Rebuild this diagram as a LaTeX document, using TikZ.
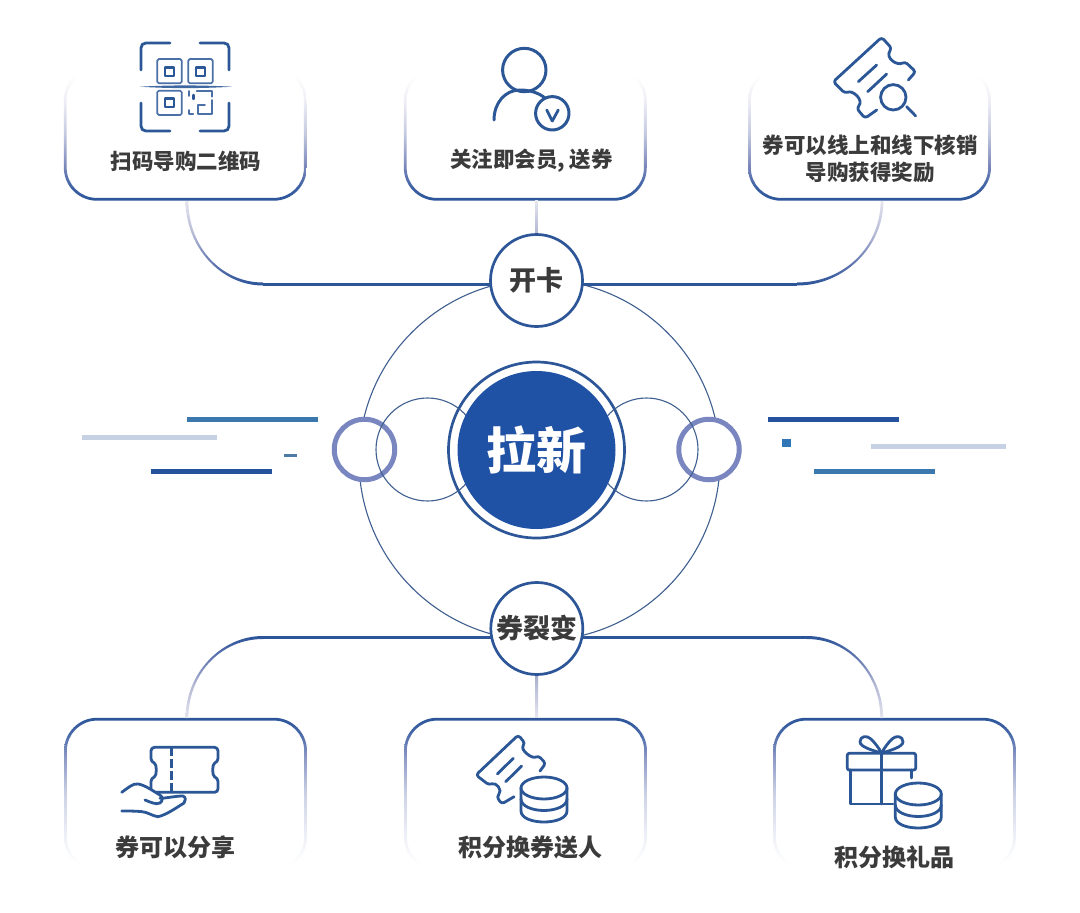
\documentclass[tikz,border=0pt]{standalone}
\usepackage{fontspec}
\setmainfont{Noto Sans CJK SC}
\pgfdeclareverticalshading{cardup}{100bp}{rgb(0bp)=(.17,.33,.60); rgb(25bp)=(.17,.33,.60); rgb(30bp)=(.24,.38,.64); rgb(38bp)=(.48,.53,.73); rgb(50bp)=(.77,.79,.88); rgb(62bp)=(.93,.93,.96); rgb(72bp)=(1,1,1); rgb(100bp)=(1,1,1)}
\pgfdeclareverticalshading{carddown}{100bp}{rgb(0bp)=(1,1,1); rgb(27bp)=(1,1,1); rgb(38bp)=(.92,.93,.96); rgb(50bp)=(.80,.82,.90); rgb(62bp)=(.55,.60,.77); rgb(70bp)=(.28,.41,.66); rgb(75bp)=(.17,.33,.60); rgb(100bp)=(.17,.33,.60)}
\pgfdeclareverticalshading{darklow}{100bp}{rgb(0bp)=(.17,.33,.60); rgb(25bp)=(.17,.33,.60); rgb(38bp)=(.38,.46,.69); rgb(55bp)=(.70,.72,.83); rgb(75bp)=(.90,.90,.94); rgb(100bp)=(.90,.90,.94)}
\pgfdeclareverticalshading{darkhigh}{100bp}{rgb(0bp)=(.90,.90,.94); rgb(25bp)=(.90,.90,.94); rgb(45bp)=(.70,.72,.83); rgb(62bp)=(.38,.46,.69); rgb(75bp)=(.17,.33,.60); rgb(100bp)=(.17,.33,.60)}
\definecolor{iconblue}{HTML}{2B5797}
\definecolor{linkblue}{HTML}{2C5697}
\definecolor{thinblue}{HTML}{3F5F90}
\definecolor{ringpurple}{HTML}{7A86BF}
\definecolor{discblue}{HTML}{1F51A4}
\definecolor{labgray}{HTML}{3B3B3B}
\definecolor{lightdeco}{HTML}{C6D2E4}
\definecolor{tealdeco}{HTML}{3B78AE}
\definecolor{navydeco}{HTML}{24529C}
\definecolor{shortdeco}{HTML}{4E7AA6}
\definecolor{squaredeco}{HTML}{2F77B6}
\tikzset{
  cardbox/.style={rectangle,draw=none,minimum width=242.5pt,minimum height=133pt,inner sep=0pt},
  cardboxlow/.style={rectangle,draw=none,minimum width=242.5pt,minimum height=152pt,inner sep=0pt},
  lab/.style={text=labgray,font=\bfseries\fontsize{21.5}{27}\selectfont,inner sep=0pt,align=center},
  lablow/.style={lab,font=\bfseries\fontsize{24}{27}\selectfont},
  hub/.style={circle,draw=linkblue,line width=2.7pt,fill=white,minimum size=92pt,inner sep=0pt,text=labgray,font=\bfseries\fontsize{27}{30}\selectfont},
  thincirc/.style={circle,draw=thinblue,line width=1.1pt,inner sep=0pt},
  smallring/.style={circle,draw=ringpurple,line width=5pt,fill=white,minimum size=60.5pt,inner sep=0pt},
  link/.style={draw=linkblue,line width=3pt},
  icon/.style={draw=iconblue,line width=2.8pt,line cap=round,line join=round},
  iconthin/.style={draw=iconblue!85,line width=1.7pt,line cap=round,line join=round},
  deco/.style={line width=4.5pt}
}
% shaded outline of a card node: node name, shading name
\newcommand{\cardring}[2]{%
  \shade[shading=#2,even odd rule]
    [rounded corners=33pt] (#1.south west) rectangle (#1.north east)
    [rounded corners=30pt] ([xshift=2.8pt,yshift=2.8pt]#1.south west) rectangle ([xshift=-2.8pt,yshift=-2.8pt]#1.north east);}
% shaded quarter curve as a thin closed ribbon
\newcommand{\ribbon}[7]{%
  \pgfmathsetmacro{\rax}{#1}\pgfmathsetmacro{\ray}{#2+.5523*(#4-#2)}%
  \pgfmathsetmacro{\rbx}{#3-.5523*(#3-#1)}\pgfmathsetmacro{\rby}{#4}%
  \shade[shading=#7]
    (#1+#5*1.4,#2) .. controls (\rax+#5*1.4,\ray) and (\rbx,\rby+#6*1.5) .. (#3,#4+#6*1.5)
    -- (#3,#4-#6*1.5) .. controls (\rbx,\rby-#6*1.5) and (\rax-#5*1.4,\ray) .. (#1-#5*1.4,#2) -- cycle;}
% stack of coins
\newcommand{\coins}[2]{%
  \draw[icon] (#1,#2) ellipse [x radius=23,y radius=11];
  \draw[icon] (#1-23,#2) -- (#1-23,#2+23) .. controls (#1-23,#2+30) and (#1-12,#2+34) .. (#1,#2+34)
     .. controls (#1+12,#2+34) and (#1+23,#2+30) .. (#1+23,#2+23) -- (#1+23,#2);
  \draw[icon] (#1-23,#2+11) .. controls (#1-23,#2+18) and (#1-12,#2+22.5) .. (#1,#2+22.5)
     .. controls (#1+12,#2+22.5) and (#1+23,#2+18) .. (#1+23,#2+11);}
\begin{document}
\begin{tikzpicture}[x=1pt,y=-1pt]
\useasboundingbox (0,0) rectangle (1080,913);
\fill[white] (0,0) rectangle (1080,913);

% decorative dashes
\draw[deco,tealdeco] (187,419.3) -- (318,419.3);
\draw[deco,lightdeco] (82,437.7) -- (217,437.7);
\draw[line width=3.5pt,shortdeco] (283.5,455.3) -- (297.3,455.3);
\draw[deco,navydeco] (151,471.3) -- (271.7,471.3);
\draw[deco,navydeco] (768.3,419.3) -- (899,419.3);
\fill[squaredeco] (782,439) rectangle (790.7,447.3);
\draw[deco,lightdeco] (870.7,446.3) -- (1005.7,446.3);
\draw[deco,tealdeco] (814,471.3) -- (935,471.3);

% cards
\node[cardbox] (c1) at (185.3,134) {};
\node[cardbox] (c2) at (525.3,134) {};
\node[cardbox] (c3) at (869.5,134) {};
\node[cardboxlow] (c4) at (185.5,794) {};
\node[cardboxlow] (c5) at (525.5,794) {};
\node[cardboxlow] (c6) at (894.5,794) {};
\cardring{c1}{cardup}
\cardring{c2}{cardup}
\cardring{c3}{cardup}
\cardring{c4}{carddown}
\cardring{c5}{carddown}
\cardring{c6}{carddown}

% big circle behind hubs
\node[thincirc,minimum size=361pt] (big) at (539.5,460) {};

% hub positions and line ends
\coordinate (kaipos) at (536.5,280.5);
\coordinate (liepos) at (536.8,628.5);
\coordinate (ka) at (263,284);
\coordinate (kb) at (797,284);
\coordinate (la) at (263,637.5);
\coordinate (lb) at (807,637.5);

% connectors
\ribbon{187}{201}{263}{284}{-1}{1}{darklow}
\ribbon{882}{201}{797}{284}{1}{1}{darklow}
\ribbon{187}{718}{263}{637.5}{-1}{-1}{darkhigh}
\ribbon{881.7}{718}{807}{637.5}{1}{-1}{darkhigh}
\draw[link] (ka) -- (ka -| kaipos);
\draw[link] (kb) -- (kb -| kaipos);
\draw[link] (la) -- (la -| liepos);
\draw[link] (lb) -- (lb -| liepos);
\shade[shading=darklow] ([xshift=-1.4pt]c2.south -| kaipos) rectangle ([xshift=1.4pt]kaipos);
\shade[shading=darkhigh] ([xshift=-1.4pt]c5.north -| liepos) rectangle ([xshift=1.4pt]liepos);

\node[hub] (kai) at (kaipos) {\raisebox{1.5pt}{开卡}};
\node[hub] (lie) at (liepos) {券裂变};

% centre
\node[smallring] (rl) at (364.5,449.5) {};
\node[smallring] (rr) at (709,449.5) {};
\node[circle,draw=linkblue,line width=2.7pt,fill=white,minimum size=176pt,inner sep=0pt] (outer) at (536.5,450) {};
\node[thincirc,minimum size=103pt] (tl) at (427.5,449.5) {};
\node[thincirc,minimum size=103pt] (tr) at (646.5,449.5) {};
\node[circle,fill=discblue,minimum size=158pt,inner sep=0pt,text=white,font=\bfseries\fontsize{50}{54}\selectfont] (disc) at (536.5,450) {\raisebox{-2pt}{拉新}};

% labels
\node[lab] (t1) at (186,161.5) {扫码导购二维码};
\node[lab] (t2) at (531.5,160.5) {关注即会员, 送券};
\node[lab] (t3) at (870,158.5) {券可以线上和线下核销\\导购获得奖励};
\node[lablow] (t4) at (175.5,847) {券可以分享};
\node[lablow] (t5) at (530.5,847) {积分换券送人};
\node[lablow] (t6) at (894.5,857) {积分换礼品};

% QR icon
\draw[icon] (141,70) -- (141,48) .. controls (141,45) and (143,43) .. (146,43) -- (170,43);
\draw[icon] (200,43) -- (224,43) .. controls (227,43) and (229,45) .. (229,48) -- (229,70);
\draw[icon] (141,103) -- (141,126) .. controls (141,129) and (143,131) .. (146,131) -- (170,131);
\draw[icon] (200,131) -- (224,131) .. controls (227,131) and (229,129) .. (229,126) -- (229,103);
\draw[iconthin,rounded corners=1.5pt] (157.3,59) rectangle (181.7,83.3);
\draw[iconthin,rounded corners=1.5pt] (188.3,59) rectangle (212.7,83.3);
\draw[iconthin,rounded corners=1.5pt] (157.3,90.7) rectangle (181.7,115);
\draw[icon,line width=2.4pt] (165,67.3) rectangle (174,75.7);
\draw[icon,line width=2.4pt] (195.7,67.3) rectangle (204.7,75.7);
\draw[icon,line width=2.4pt] (165,98.3) rectangle (174,106.7);
\fill[iconblue!90] (140,86.7) .. controls (170,85) and (200,85) .. (232,86.7) .. controls (200,88.6) and (170,88.6) .. cycle;
\draw[iconthin] (196.7,91) -- (212.3,91) -- (212.3,96.7);
\draw[iconthin] (212.3,100) -- (212.3,114.3) -- (198.3,114.3) -- (198.3,105) -- (205,105);
\draw[iconthin] (189.3,91) -- (189.3,96);
\draw[iconthin] (189.3,110) -- (189.3,114.3) -- (193.3,114.3);
\draw[icon,line width=2.4pt] (193.3,95) -- (193.3,99);

% person icon
\draw[icon,line width=3pt] (524.3,70) circle [radius=21.7];
\draw[icon,line width=3pt] (494,120) .. controls (494,103) and (505,90) .. (520,90) .. controls (530,90) and (539,93) .. (545,98);
\draw[icon,line width=3pt] (552.3,113.3) circle [radius=16.7];
\draw[icon] (546.7,110) -- (552.3,121) -- (558.3,110);

% ticket + magnifier icon
\draw[icon,rounded corners=3pt] (908.3,80) -- (915.7,71.7) -- (905,61.7) .. controls (897,66) and (885,58) .. (891.7,48.3) -- (881.7,37.3) -- (833.3,81.7) -- (845,93.3) .. controls (853,90) and (864,100) .. (856.7,108.3) -- (865,118.3) -- (876.7,110);
\draw[icon] (858.3,81.7) -- (876.7,65);
\draw[icon] (867.7,91.7) -- (886.7,74);
\draw[icon] (893.3,97.3) circle [radius=12.7];
\draw[icon] (906.7,106.7) -- (915.7,116);

% hand + ticket icon
\draw[icon,rounded corners=3.5pt] (151,747.3) -- (218,747.3) -- (218,762) .. controls (212,764) and (212,776) .. (218,778) -- (218,792.3) -- (151,792.3) -- (151,778) .. controls (157,776) and (157,764) .. (151,762) -- cycle;
\draw[icon,line cap=butt,dash pattern=on 9pt off 3pt] (171.7,747.3) -- (171.7,792.3);
\draw[icon,fill=white] (121.7,792.3) .. controls (128,788) and (133,783) .. (138,784) .. controls (145,785) and (153,791) .. (160,795) .. controls (163,797) and (163,801) .. (160,803) .. controls (156,805) and (150,802) .. (145,800);
\draw[icon] (160,798.3) .. controls (168,798) and (175,796) .. (183,796) .. controls (186,797) and (186,801) .. (184,803) .. controls (176,808) and (166,815) .. (158,816.7) .. controls (152,816) and (148,812) .. (141,811.5) .. controls (134,811) and (128,811) .. (121.7,811);

% ticket + coins icon
\draw[icon,rounded corners=3pt] (540,771) -- (545.7,763.3) -- (538.3,755.7) .. controls (532,759) and (520,750) .. (525,743.3) -- (518.3,735) -- (476,775) -- (489,785) .. controls (496,782) and (503,790) .. (496.7,796.7) -- (501.7,804) -- (514,796.7);
\draw[icon] (497.3,774) -- (513.3,758.3);
\draw[icon] (505.7,781.7) -- (521.7,766);
\coins{544}{788}

% gift + coins icon
\draw[icon,rounded corners=2pt] (847.3,753.3) rectangle (915.7,770);
\draw[icon] (850.7,770) -- (850.7,804) -- (893,804);
\draw[icon] (911.7,770) -- (911.7,778);
\draw[icon] (881.7,753.3) -- (881.7,804);
\draw[icon] (881.7,753.3) .. controls (872,750) and (860,747) .. (860,741.7) .. controls (860,736) and (867,735) .. (871,739) .. controls (875,743) and (879,748) .. (881.7,753.3);
\draw[icon] (881.7,753.3) .. controls (891,750) and (903,747) .. (903,741.7) .. controls (903,736) and (896,735) .. (892,739) .. controls (888,743) and (884,748) .. (881.7,753.3);
\coins{918.3}{794}
\end{tikzpicture}
\end{document}
